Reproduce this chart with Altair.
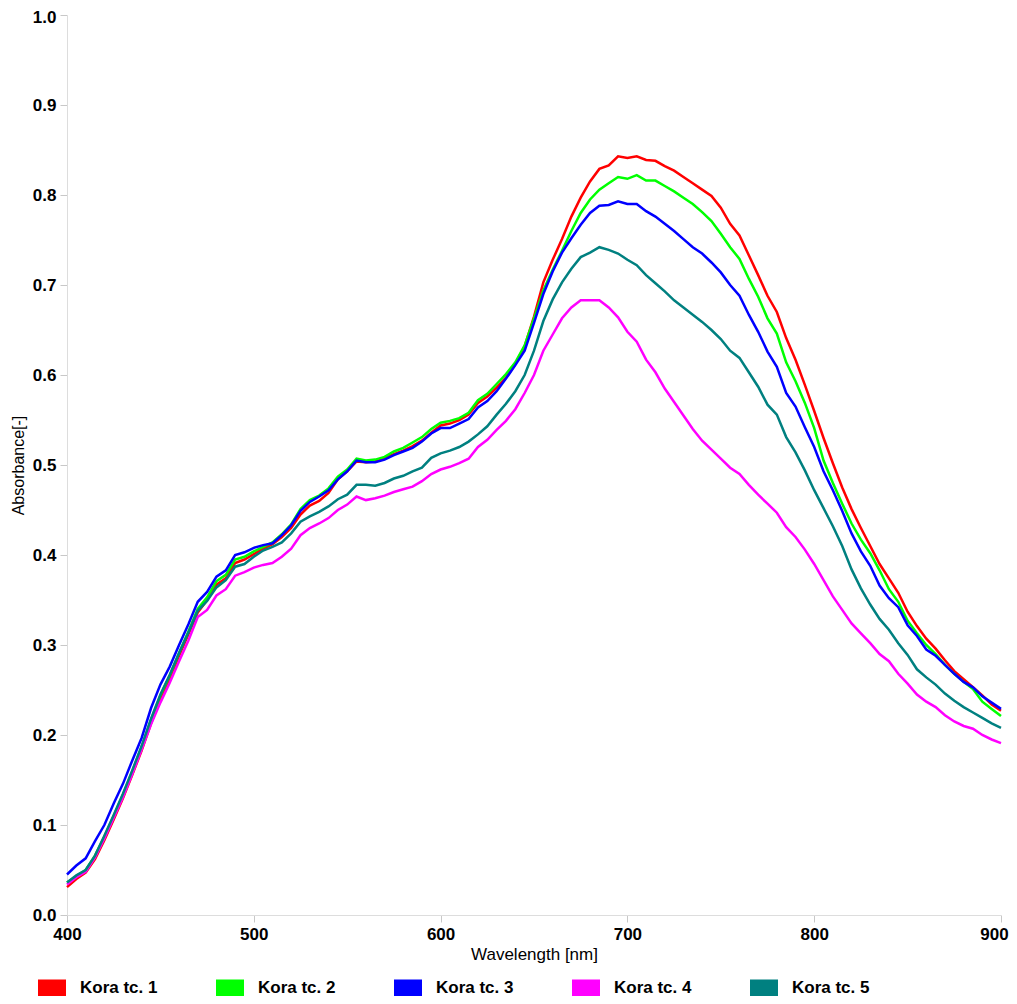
import altair as alt
import pandas as pd

wavelengths = list(range(400, 901, 5))

series_names = ["Kora tc. 1", "Kora tc. 2", "Kora tc. 3", "Kora tc. 4", "Kora tc. 5"]
series_colors = ["#ff0000", "#00ff00", "#0000ff", "#ff00ff", "#008080"]

kora1 = [0.031, 0.040, 0.047, 0.062, 0.083, 0.106, 0.130, 0.156, 0.183, 0.213,
         0.240, 0.263, 0.288, 0.312, 0.336, 0.350, 0.367, 0.374, 0.391, 0.395,
         0.401, 0.407, 0.412, 0.420, 0.430, 0.445, 0.455, 0.460, 0.469, 0.484,
         0.493, 0.504, 0.503, 0.504, 0.507, 0.512, 0.516, 0.521, 0.527, 0.536,
         0.544, 0.546, 0.550, 0.556, 0.569, 0.576, 0.586, 0.597, 0.612, 0.632,
         0.665, 0.703, 0.728, 0.751, 0.776, 0.797, 0.815, 0.829, 0.833, 0.843,
         0.841, 0.843, 0.839, 0.838, 0.832, 0.827, 0.820, 0.813, 0.806, 0.799,
         0.786, 0.768, 0.755, 0.733, 0.711, 0.688, 0.670, 0.641, 0.617, 0.589,
         0.560, 0.530, 0.502, 0.475, 0.451, 0.430, 0.410, 0.390, 0.374, 0.358,
         0.337, 0.321, 0.307, 0.296, 0.283, 0.271, 0.262, 0.253, 0.244, 0.234,
         0.227]

kora2 = [0.036, 0.043, 0.050, 0.066, 0.087, 0.110, 0.134, 0.160, 0.187, 0.217,
         0.244, 0.266, 0.291, 0.315, 0.340, 0.353, 0.371, 0.378, 0.395, 0.398,
         0.404, 0.409, 0.414, 0.423, 0.434, 0.451, 0.461, 0.466, 0.474, 0.487,
         0.495, 0.507, 0.505, 0.506, 0.509, 0.515, 0.519, 0.525, 0.531, 0.540,
         0.547, 0.549, 0.552, 0.558, 0.572, 0.579, 0.590, 0.601, 0.614, 0.633,
         0.663, 0.694, 0.717, 0.738, 0.760, 0.780, 0.795, 0.806, 0.813, 0.820,
         0.818, 0.822, 0.816, 0.816, 0.810, 0.804, 0.797, 0.790, 0.781, 0.771,
         0.757, 0.742, 0.729, 0.707, 0.687, 0.663, 0.646, 0.614, 0.593, 0.569,
         0.541, 0.505, 0.480, 0.457, 0.435, 0.417, 0.402, 0.383, 0.362, 0.348,
         0.327, 0.313, 0.300, 0.290, 0.278, 0.268, 0.259, 0.251, 0.237, 0.229,
         0.221]

kora3 = [0.045, 0.055, 0.063, 0.082, 0.100, 0.124, 0.146, 0.172, 0.197, 0.230,
         0.256, 0.276, 0.300, 0.323, 0.348, 0.359, 0.376, 0.383, 0.400, 0.403,
         0.408, 0.411, 0.413, 0.422, 0.433, 0.449, 0.459, 0.465, 0.472, 0.484,
         0.493, 0.505, 0.503, 0.503, 0.506, 0.511, 0.515, 0.519, 0.526, 0.535,
         0.541, 0.541, 0.546, 0.551, 0.564, 0.571, 0.582, 0.596, 0.611, 0.627,
         0.658, 0.690, 0.715, 0.736, 0.752, 0.767, 0.780, 0.788, 0.789, 0.793,
         0.790, 0.790, 0.782, 0.776, 0.768, 0.760, 0.751, 0.742, 0.735, 0.725,
         0.714, 0.700, 0.688, 0.667, 0.648, 0.626, 0.609, 0.580, 0.565, 0.542,
         0.520, 0.493, 0.472, 0.449, 0.424, 0.404, 0.388, 0.366, 0.352, 0.342,
         0.322, 0.310, 0.295, 0.288, 0.278, 0.268, 0.259, 0.253, 0.243, 0.236,
         0.229]

kora4 = [0.034, 0.042, 0.048, 0.064, 0.085, 0.108, 0.131, 0.157, 0.184, 0.212,
         0.236, 0.258, 0.282, 0.305, 0.331, 0.339, 0.355, 0.362, 0.377, 0.381,
         0.386, 0.389, 0.391, 0.398, 0.407, 0.422, 0.430, 0.435, 0.441, 0.450,
         0.456, 0.465, 0.461, 0.463, 0.466, 0.470, 0.473, 0.476, 0.482, 0.490,
         0.495, 0.498, 0.502, 0.507, 0.520, 0.528, 0.539, 0.549, 0.562, 0.580,
         0.600, 0.627, 0.645, 0.663, 0.675, 0.683, 0.683, 0.683, 0.675, 0.664,
         0.648, 0.637, 0.617, 0.603, 0.585, 0.570, 0.555, 0.540, 0.527, 0.517,
         0.507, 0.497, 0.490, 0.478, 0.467, 0.457, 0.447, 0.431, 0.420, 0.406,
         0.390, 0.372, 0.354, 0.339, 0.324, 0.313, 0.302, 0.290, 0.282, 0.268,
         0.257, 0.245, 0.237, 0.231, 0.222, 0.215, 0.210, 0.207, 0.200, 0.195,
         0.191]

kora5 = [0.036, 0.044, 0.050, 0.066, 0.088, 0.111, 0.135, 0.161, 0.188, 0.218,
         0.245, 0.267, 0.291, 0.314, 0.338, 0.349, 0.364, 0.372, 0.387, 0.390,
         0.398, 0.405, 0.409, 0.414, 0.424, 0.437, 0.443, 0.448, 0.454, 0.462,
         0.467, 0.478, 0.478, 0.477, 0.480, 0.485, 0.488, 0.493, 0.497, 0.508,
         0.513, 0.516, 0.520, 0.526, 0.534, 0.543, 0.556, 0.568, 0.582, 0.600,
         0.627, 0.660, 0.684, 0.703, 0.718, 0.731, 0.736, 0.742, 0.739, 0.735,
         0.728, 0.722, 0.711, 0.702, 0.693, 0.683, 0.675, 0.667, 0.659, 0.650,
         0.640, 0.627, 0.619, 0.603, 0.587, 0.567, 0.556, 0.531, 0.514, 0.494,
         0.472, 0.452, 0.432, 0.410, 0.384, 0.363, 0.345, 0.329, 0.317, 0.302,
         0.289, 0.273, 0.264, 0.256, 0.246, 0.238, 0.231, 0.225, 0.219, 0.213,
         0.208]

x_ticks = [400, 500, 600, 700, 800, 900]
y_ticks = [0.0, 0.1, 0.2, 0.3, 0.4, 0.5, 0.6, 0.7, 0.8, 0.9, 1.0]

rows = []
for name, vals in zip(series_names, [kora1, kora2, kora3, kora4, kora5]):
    for wl, v in zip(wavelengths, vals):
        rows.append({"wl": wl, "absorbance": v, "series": name})
df = pd.DataFrame(rows)

FONT = "Liberation Sans Narrow, Liberation Sans, Arial, sans-serif"

# swatch drawn as a thick-stroked thin rectangle -> solid 28x18 block
legend = alt.Legend(
    title=None, orient="none", legendX=-36, legendY=952,
    direction="horizontal", columns=5,
    symbolType="M-0.5,-0.143H0.5V0.143H-0.5Z", symbolSize=784,
    symbolStrokeWidth=14, symbolOpacity=1,
    labelFontSize=17, labelFontWeight="bold",
    labelOffset=7, columnPadding=37, padding=0,
)

chart = alt.Chart(df).mark_line(strokeWidth=2.5).encode(
    x=alt.X("wl:Q",
            scale=alt.Scale(domain=[400, 900], nice=False, zero=False),
            axis=alt.Axis(values=x_ticks, title="Wavelength [nm]", format="d",
                          labelFlush=False,
                          labelOffset=alt.ConditionalAxisNumber(
                              condition={"test": "datum.value == 900", "value": -7},
                              value=0),
                          labelFontWeight="bold", labelFontSize=17, labelPadding=4,
                          titleFontSize=17, titleFontWeight="normal", titlePadding=4,
                          tickSize=7)),
    y=alt.Y("absorbance:Q",
            scale=alt.Scale(domain=[0, 1], nice=False),
            axis=alt.Axis(values=y_ticks, title="Absorbance[-]", format=".1f",
                          labelFlush=False,
                          labelOffset=alt.ConditionalAxisNumber(
                              condition={"test": "datum.value == 1", "value": 2},
                              value=0),
                          labelFontWeight="bold", labelFontSize=17, labelPadding=4,
                          titleFontSize=16, titleFontWeight="normal", titlePadding=6,
                          tickSize=7)),
    color=alt.Color("series:N",
                    scale=alt.Scale(domain=series_names, range=series_colors),
                    legend=legend),
    order=alt.Order("series:N"),
).properties(
    width=934,
    height=900,
    autosize=alt.AutoSizeParams(type="none"),
    padding={"left": 59, "top": 7, "right": 8, "bottom": 81},
).configure_view(
    stroke=None
).configure_axis(
    grid=False,
    domainColor="#dddddd",
    tickColor="#c8c8c8",
    labelColor="#000000",
    titleColor="#000000",
    labelFont=FONT,
    titleFont=FONT,
).configure_legend(
    labelFont=FONT,
    labelColor="#000000",
)

chart.save("out.html", embed_options={"renderer": "svg", "actions": False})
